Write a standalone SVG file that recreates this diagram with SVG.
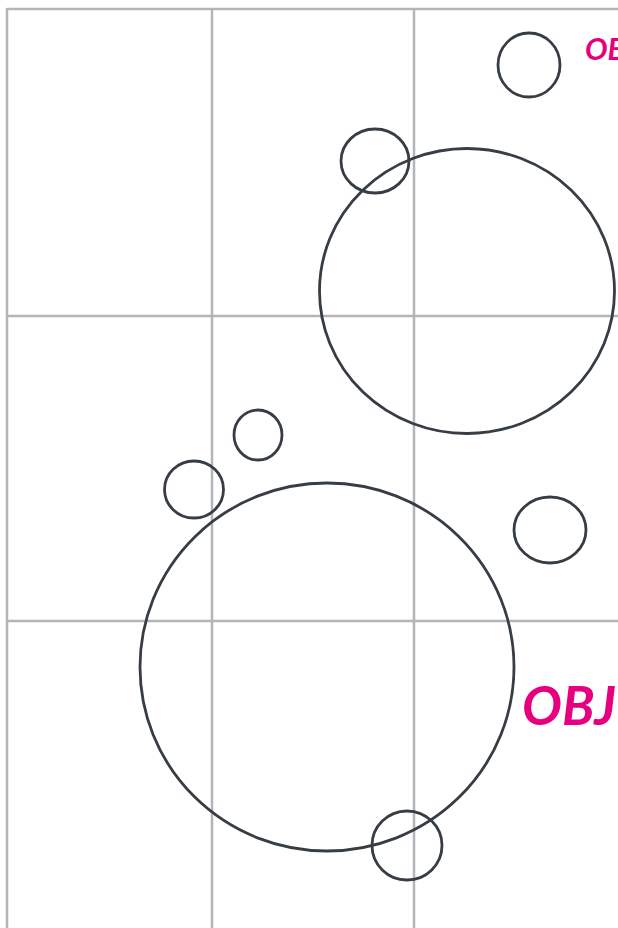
<svg xmlns="http://www.w3.org/2000/svg" width="618" height="928" viewBox="0 0 618 928">
<style>
.grid{stroke:#b4b5b8;stroke-width:2.5;fill:none}
.c{fill:none;stroke:#363d45;stroke-width:2.8}
.lbl{font-family:"Lato","Liberation Sans",sans-serif;font-weight:bold;font-style:italic;fill:#e6007e}
</style>
<rect width="618" height="928" fill="#ffffff"/>
<g id="grid">
<line class="grid" x1="7" y1="9" x2="618" y2="9"/>
<line class="grid" x1="7" y1="316" x2="618" y2="316"/>
<line class="grid" x1="7" y1="621" x2="618" y2="621"/>
<line class="grid" x1="7" y1="8" x2="7" y2="928"/>
<line class="grid" x1="212" y1="8" x2="212" y2="928"/>
<line class="grid" x1="414" y1="8" x2="414" y2="928"/>
</g>
<g id="c1"><ellipse class="c" cx="529" cy="65" rx="31" ry="32"/></g>
<g id="c2"><ellipse class="c" cx="375" cy="161" rx="34" ry="32"/></g>
<g id="c3"><ellipse class="c" cx="467" cy="291" rx="147.5" ry="142.5"/></g>
<g id="c4"><ellipse class="c" cx="258" cy="435" rx="24" ry="25"/></g>
<g id="c5"><ellipse class="c" cx="194" cy="489.5" rx="29.5" ry="28.5"/></g>
<g id="c6"><ellipse class="c" cx="550" cy="530" rx="36" ry="33"/></g>
<g id="c7"><ellipse class="c" cx="327" cy="667" rx="187" ry="184"/></g>
<g id="c8"><ellipse class="c" cx="407" cy="845.5" rx="35" ry="34.5"/></g>
<g id="labels">
<text class="lbl" x="585" y="60" font-size="30">OB</text>
<text class="lbl" x="522" y="725" font-size="53">OBJ</text>
</g>
</svg>
